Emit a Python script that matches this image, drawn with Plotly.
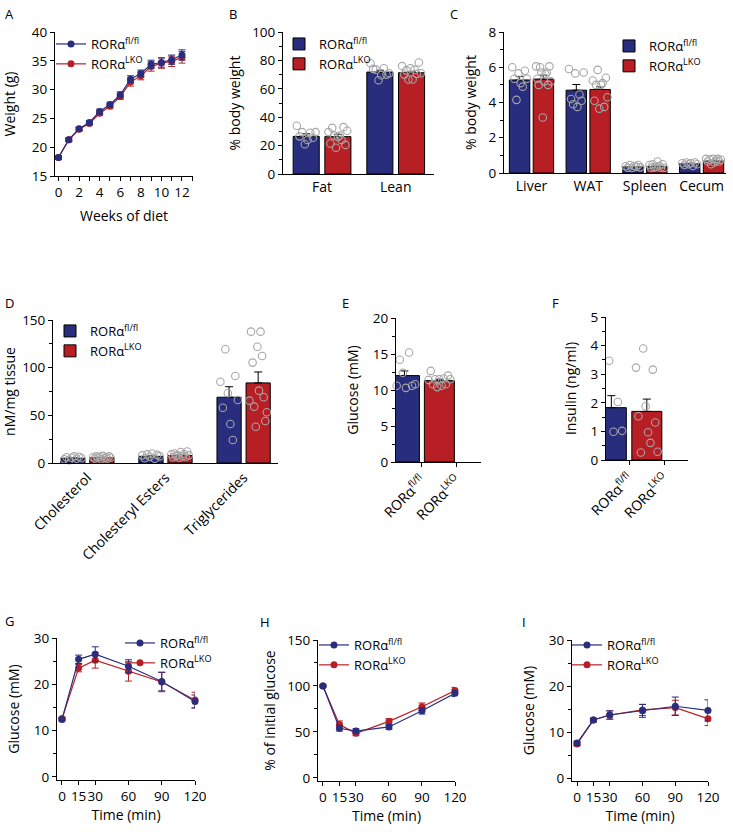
import numpy as np
import plotly.graph_objects as go

W, H = 733, 832
BLUE = '#282d7d'
RED = '#b71f25'
DOT = '#a6a6a6'
FONT = 'Open Sans'
FLFL = 'RORα<sup>fl/fl</sup>'
LKO = 'RORα<sup>LKO</sup>'

# ---------------- data ----------------
# A: body weight during diet
weeks = list(range(13))
wt_fl = [18.2, 21.3, 23.2, 24.3, 26.2, 27.4, 29.1, 31.8, 32.8, 34.4, 34.7, 35.2, 36.0]
wt_fl_sem = [0.3, 0.3, 0.3, 0.3, 0.4, 0.4, 0.5, 0.6, 0.6, 0.7, 0.8, 0.8, 0.9]
wt_lko = [18.2, 21.3, 23.1, 24.1, 25.9, 27.1, 28.8, 31.3, 32.4, 34.0, 34.6, 34.9, 35.6]
wt_lko_sem = [0.3, 0.3, 0.3, 0.3, 0.4, 0.4, 0.5, 0.7, 0.7, 0.8, 0.9, 0.9, 1.0]

# B: body composition
comp_cats = ['Fat', 'Lean']
comp_fl = [26.5, 71.8]
comp_fl_sem = [1.8, 1.3]
comp_lko = [26.3, 71.3]
comp_lko_sem = [1.6, 1.0]
comp_fl_dots = [[34, 26.5, 29.5, 21, 24, 29, 25.5, 29.5],
                [78, 74, 73.5, 66, 69.5, 74.5, 70, 71]]
comp_lko_dots = [[29.5, 21.5, 32.5, 27, 18.5, 26, 27, 24, 33, 20.5, 30.5],
                 [76, 70, 73, 66.5, 74.5, 66.5, 73.5, 70.5, 78.5, 71]]

# C: organ weights
org_cats = ['Liver', 'WAT', 'Spleen', 'Cecum']
org_fl = [5.28, 4.70, 0.35, 0.52]
org_fl_sem = [0.2, 0.32, 0.02, 0.03]
org_lko = [5.33, 4.74, 0.37, 0.68]
org_lko_sem = [0.22, 0.15, 0.03, 0.04]
org_fl_dots = [[6.0, 5.35, 4.15, 5.65, 5.1, 4.9, 5.8, 5.35],
               [5.9, 4.2, 3.9, 5.65, 3.75, 4.45, 4.1, 5.7],
               [0.38, 0.3, 0.45, 0.28, 0.4, 0.35, 0.45, 0.32],
               [0.55, 0.45, 0.6, 0.5, 0.55, 0.4, 0.6, 0.5]]
org_lko_dots = [[6.05, 5.35, 5.0, 6.0, 5.7, 3.15, 5.2, 5.6, 5.7, 5.0, 6.05, 5.2],
                [5.25, 4.1, 5.0, 5.85, 3.65, 5.0, 5.1, 3.75, 5.4, 4.3],
                [0.45, 0.3, 0.5, 0.32, 0.35, 0.65, 0.4, 0.3, 0.5, 0.28],
                [0.8, 0.65, 0.75, 0.5, 0.8, 0.6, 0.7, 0.8, 0.65, 0.75]]

# D: hepatic lipids
lip_cats = ['Cholesterol', 'Cholesteryl Esters', 'Triglycerides']
lip_fl = [5.0, 7.0, 69.0]
lip_fl_sem = [0.4, 0.6, 11.0]
lip_lko = [5.5, 7.8, 84.0]
lip_lko_sem = [0.4, 0.6, 11.5]
lip_fl_dots = [[4, 6, 3, 5.5, 7, 4.5, 6.5, 5],
               [8, 5, 9, 6.5, 10, 4.5, 8.5, 7],
               [85.3, 58, 119.3, 73.1, 40.9, 24.1, 91.3, 66.1]]
lip_lko_dots = [[6, 4.5, 7, 5.5, 6.5, 4, 7.5, 5, 6, 4.5, 7, 5.5],
                [9, 6, 10, 7.5, 8, 5.5, 11.5, 7, 9.5, 6.5, 12, 8],
                [65.4, 137.8, 105.3, 59.1, 38.1, 122, 75.9, 137.8, 112.3, 68.9, 44.1, 53.2]]

# E: fasting glucose
glu_cats = [FLFL, LKO]
glu_mean = [12.0, 11.3]
glu_sem = [0.65, 0.2]
glu_dots = [[11.5, 10.6, 14.2, 12.4, 10.3, 15.2, 10.6, 10.8],
            [11.4, 12.65, 10.8, 11.5, 10.4, 11.5, 10.6, 11.6, 10.8, 12.0, 11.5]]

# F: insulin
ins_cats = [FLFL, LKO]
ins_mean = [1.83, 1.70]
ins_sem = [0.42, 0.43]
ins_dots = [[1.24, 2.33, 3.47, 0.99, 2.03, 1.02],
            [3.23, 1.53, 0.26, 3.9, 1.88, 0.97, 0.6, 3.16, 1.31, 0.29]]

# G, H, I: tolerance tests
time_min = [0, 15, 30, 60, 90, 120]
gtt_fl = [12.4, 25.4, 26.5, 23.9, 20.6, 16.3]
gtt_fl_sem = [0.3, 0.9, 1.6, 1.4, 2.0, 1.4]
gtt_lko = [12.6, 23.5, 25.2, 22.8, 20.5, 16.6]
gtt_lko_sem = [0.3, 0.8, 1.7, 2.1, 2.1, 1.7]
itt_fl = [100, 54, 51, 55.5, 73, 92]
itt_fl_sem = [1, 3, 2.5, 2.5, 3.5, 3.5]
itt_lko = [100, 58, 48.5, 61.5, 77.5, 95]
itt_lko_sem = [1, 4, 2.5, 3, 4, 3.5]
ptt_fl = [7.6, 12.6, 13.7, 14.6, 15.6, 14.7]
ptt_fl_sem = [0.4, 0.4, 0.9, 1.4, 2.0, 2.3]
ptt_lko = [7.4, 12.6, 13.7, 14.8, 15.3, 12.9]
ptt_lko_sem = [0.4, 0.4, 0.9, 1.2, 1.6, 1.5]

# ---------------- figure ----------------
fig = go.Figure()
layout = dict(width=W, height=H, margin=dict(l=0, r=0, t=0, b=0, autoexpand=False),
              paper_bgcolor='white', plot_bgcolor='white', barmode='overlay',
              font=dict(family=FONT, size=13, color='black'), annotations=[])


def dx(a, b):
    return [a / W, b / W]


def dy(top, bottom):
    return [1 - bottom / H, 1 - top / H]


def base_axis(**kw):
    d = dict(showline=True, linecolor='black', linewidth=1, ticks='outside', ticklen=4,
             tickwidth=1, tickcolor='black', showgrid=False, zeroline=False, automargin=False,
             tickfont=dict(size=13.5, family=FONT, color='black'),
             title=dict(font=dict(size=14, family=FONT, color='black')))
    d.update(kw)
    return d


def set_axes(i, xd, yd, xr, yr, xkw, ykw):
    xk = 'xaxis' if i == 1 else f'xaxis{i}'
    yk = 'yaxis' if i == 1 else f'yaxis{i}'
    xa = base_axis(domain=xd, range=xr, anchor='y' if i == 1 else f'y{i}')
    xa.update(xkw)
    ya = base_axis(domain=yd, range=yr, anchor='x' if i == 1 else f'x{i}')
    ya.update(ykw)
    layout[xk] = xa
    layout[yk] = ya
    return ('x' if i == 1 else f'x{i}', 'y' if i == 1 else f'y{i}')


def set_legend(key, text_x, first_y):
    layout[key] = dict(x=(text_x - 40) / W, y=1 - (first_y - 11) / H, xanchor='left', yanchor='top',
                       bgcolor='rgba(0,0,0,0)', font=dict(size=13, family=FONT),
                       tracegroupgap=0, itemwidth=30)


def line_panel(ax, t, fl, fl_sem, lko, lko_sem, legend):
    xa, ya = ax
    for name, y, s, c in [(LKO, lko, lko_sem, RED), (FLFL, fl, fl_sem, BLUE)]:
        fig.add_trace(go.Scatter(
            x=t, y=y, name=name, mode='lines+markers', xaxis=xa, yaxis=ya,
            line=dict(color=c, width=1.2), marker=dict(color=c, size=7),
            error_y=dict(type='data', array=s, color=c, thickness=1, width=3.5),
            cliponaxis=False, legend=legend))


def bar_panel(ax, n, fl, fl_sem, lko, lko_sem, fl_dots, lko_dots, width, offset,
              legend=None):
    xa, ya = ax
    pos = np.arange(n)
    show = legend is not None
    for name, y, s, c, sign in [(FLFL, fl, fl_sem, BLUE, -1), (LKO, lko, lko_sem, RED, 1)]:
        fig.add_trace(go.Bar(
            x=pos + sign * offset, y=y, width=width, name=name, xaxis=xa, yaxis=ya,
            marker=dict(color=c, line=dict(color='black', width=1)),
            error_y=dict(type='data', symmetric=False, array=s, arrayminus=[0] * n,
                         color='black', thickness=1, width=4),
            showlegend=show, legend=legend if show else 'legend'))
    for dots, sign in [(fl_dots, -1), (lko_dots, 1)]:
        for j, d in enumerate(dots):
            xs = pos[j] + sign * offset + np.linspace(-0.36, 0.36, len(d)) * width
            fig.add_trace(go.Scatter(
                x=xs, y=d, mode='markers', xaxis=xa, yaxis=ya, showlegend=False,
                marker=dict(symbol='circle-open', size=7.5, color=DOT, line=dict(width=1.1)),
                cliponaxis=False))


# A
axA = set_axes(1, dx(55, 193), dy(32, 176), [-0.34, 13.07], [15, 40],
               dict(tickvals=list(range(0, 13, 2)), minor=dict(ticks='outside', dtick=1, ticklen=4),
                    title=dict(text='Weeks of diet', standoff=10, font=dict(size=14))),
               dict(tickvals=[15, 20, 25, 30, 35, 40],
                    title=dict(text='Weight (g)', standoff=12, font=dict(size=14))))
line_panel(axA, weeks, wt_fl, wt_fl_sem, wt_lko, wt_lko_sem, 'legend')
set_legend('legend', 91, 40)
layout['legend']['traceorder'] = 'reversed'

# B
axB = set_axes(2, dx(283, 434), dy(32, 174), [-0.53, 1.52], [0, 100],
               dict(tickvals=[0, 1], ticktext=comp_cats, ticks='', tickfont=dict(size=14)),
               dict(tickvals=[0, 20, 40, 60, 80, 100], minor=dict(ticks='outside', dtick=10, ticklen=3),
                    title=dict(text='% body weight', standoff=8, font=dict(size=14))))
bar_panel(axB, 2, comp_fl, comp_fl_sem, comp_lko, comp_lko_sem, comp_fl_dots, comp_lko_dots,
          0.354, 0.215, 'legend2')
set_legend('legend2', 319, 40)

# C
axC = set_axes(3, dx(504, 726), dy(32, 173), [-0.485, 3.43], [0, 8],
               dict(tickvals=[0, 1, 2, 3], ticktext=org_cats, ticks='', tickfont=dict(size=14)),
               dict(tickvals=[0, 2, 4, 6, 8], minor=dict(ticks='outside', dtick=1, ticklen=3),
                    title=dict(text='% body weight', standoff=8, font=dict(size=14))))
bar_panel(axC, 4, org_fl, org_fl_sem, org_lko, org_lko_sem, org_fl_dots, org_lko_dots,
          0.36, 0.21, 'legend3')
set_legend('legend3', 649, 42)

# D
axD = set_axes(4, dx(53, 278), dy(320, 463), [-0.44, 2.44], [0, 150],
               dict(tickvals=[0, 1, 2], ticktext=lip_cats, ticks='', tickangle=-45,
                    tickfont=dict(size=14)),
               dict(tickvals=[0, 50, 100, 150], minor=dict(ticks='outside', dtick=25, ticklen=3),
                    title=dict(text='nM/mg tissue', standoff=10, font=dict(size=14))))
bar_panel(axD, 3, lip_fl, lip_fl_sem, lip_lko, lip_lko_sem, lip_fl_dots, lip_lko_dots,
          0.31, 0.186, 'legend4')
set_legend('legend4', 90, 327)

# E
axE = set_axes(5, dx(396, 481), dy(318, 462), [-0.74, 1.69], [0, 20],
               dict(tickvals=[0, 1], ticktext=glu_cats, tickangle=-45, tickfont=dict(size=14)),
               dict(tickvals=[0, 5, 10, 15, 20], minor=dict(ticks='outside', dtick=2.5, ticklen=3),
                    title=dict(text='Glucose (mM)', standoff=10, font=dict(size=14))))
bar_panel(axE, 1, [glu_mean[0]], [glu_sem[0]], [glu_mean[1]], [glu_sem[1]],
          [glu_dots[0]], [glu_dots[1]], 0.857, 0.5)

# F
axF = set_axes(6, dx(606, 688), dy(317, 460), [-0.65, 1.66], [0, 5],
               dict(tickvals=[0, 1], ticktext=ins_cats, tickangle=-45, tickfont=dict(size=14)),
               dict(tickvals=[0, 1, 2, 3, 4, 5], minor=dict(ticks='outside', dtick=0.5, ticklen=3),
                    title=dict(text='Insulin (ng/ml)', standoff=10, font=dict(size=14))))
bar_panel(axF, 1, [ins_mean[0]], [ins_sem[0]], [ins_mean[1]], [ins_sem[1]],
          [ins_dots[0]], [ins_dots[1]], 0.845, 0.5)

# G
axG = set_axes(7, dx(57, 195), dy(638, 780), [-4.5, 120], [-0.65, 30],
               dict(tickvals=time_min, tickangle=0,
                    title=dict(text='Time (min)', standoff=4, font=dict(size=14))),
               dict(tickvals=[0, 10, 20, 30], minor=dict(ticks='outside', dtick=5, ticklen=3),
                    title=dict(text='Glucose (mM)', standoff=10, font=dict(size=14))))
line_panel(axG, time_min, gtt_fl, gtt_fl_sem, gtt_lko, gtt_lko_sem, 'legend5')
set_legend('legend5', 160, 639)
layout['legend5']['traceorder'] = 'reversed'

# H
axH = set_axes(8, dx(318, 455), dy(640, 781), [-4.5, 120], [-3.3, 150],
               dict(tickvals=time_min, tickangle=0,
                    title=dict(text='Time (min)', standoff=4, font=dict(size=14))),
               dict(tickvals=[0, 50, 100, 150], minor=dict(ticks='outside', dtick=25, ticklen=3),
                    title=dict(text='% of initial glucose', standoff=8, font=dict(size=14))))
line_panel(axH, time_min, itt_fl, itt_fl_sem, itt_lko, itt_lko_sem, 'legend6')
set_legend('legend6', 354, 641)
layout['legend6']['traceorder'] = 'reversed'

# I
axI = set_axes(9, dx(572, 708), dy(640, 781), [-4.6, 120], [-0.65, 30],
               dict(tickvals=time_min, tickangle=0,
                    title=dict(text='Time (min)', standoff=4, font=dict(size=14))),
               dict(tickvals=[0, 10, 20, 30], minor=dict(ticks='outside', dtick=5, ticklen=3),
                    title=dict(text='Glucose (mM)', standoff=10, font=dict(size=14))))
line_panel(axI, time_min, ptt_fl, ptt_fl_sem, ptt_lko, ptt_lko_sem, 'legend7')
set_legend('legend7', 607, 641)
layout['legend7']['traceorder'] = 'reversed'

# panel letters
for lab, xp, yp in [('A', 3, 3), ('B', 227, 3), ('C', 448, 3), ('D', 3, 292), ('E', 340, 292),
                    ('F', 550, 292), ('G', 3, 610), ('H', 258, 611), ('I', 520, 611)]:
    layout['annotations'].append(dict(text=lab, x=xp / W, y=1 - yp / H, xref='paper', yref='paper',
                                      xanchor='left', yanchor='top', showarrow=False,
                                      font=dict(size=13, family=FONT, color='black')))

fig.update_layout(**layout)
fig.write_html('out.html', config={'displayModeBar': False},
               post_script="document.body.style.margin='0px';document.body.style.overflow='hidden';")
